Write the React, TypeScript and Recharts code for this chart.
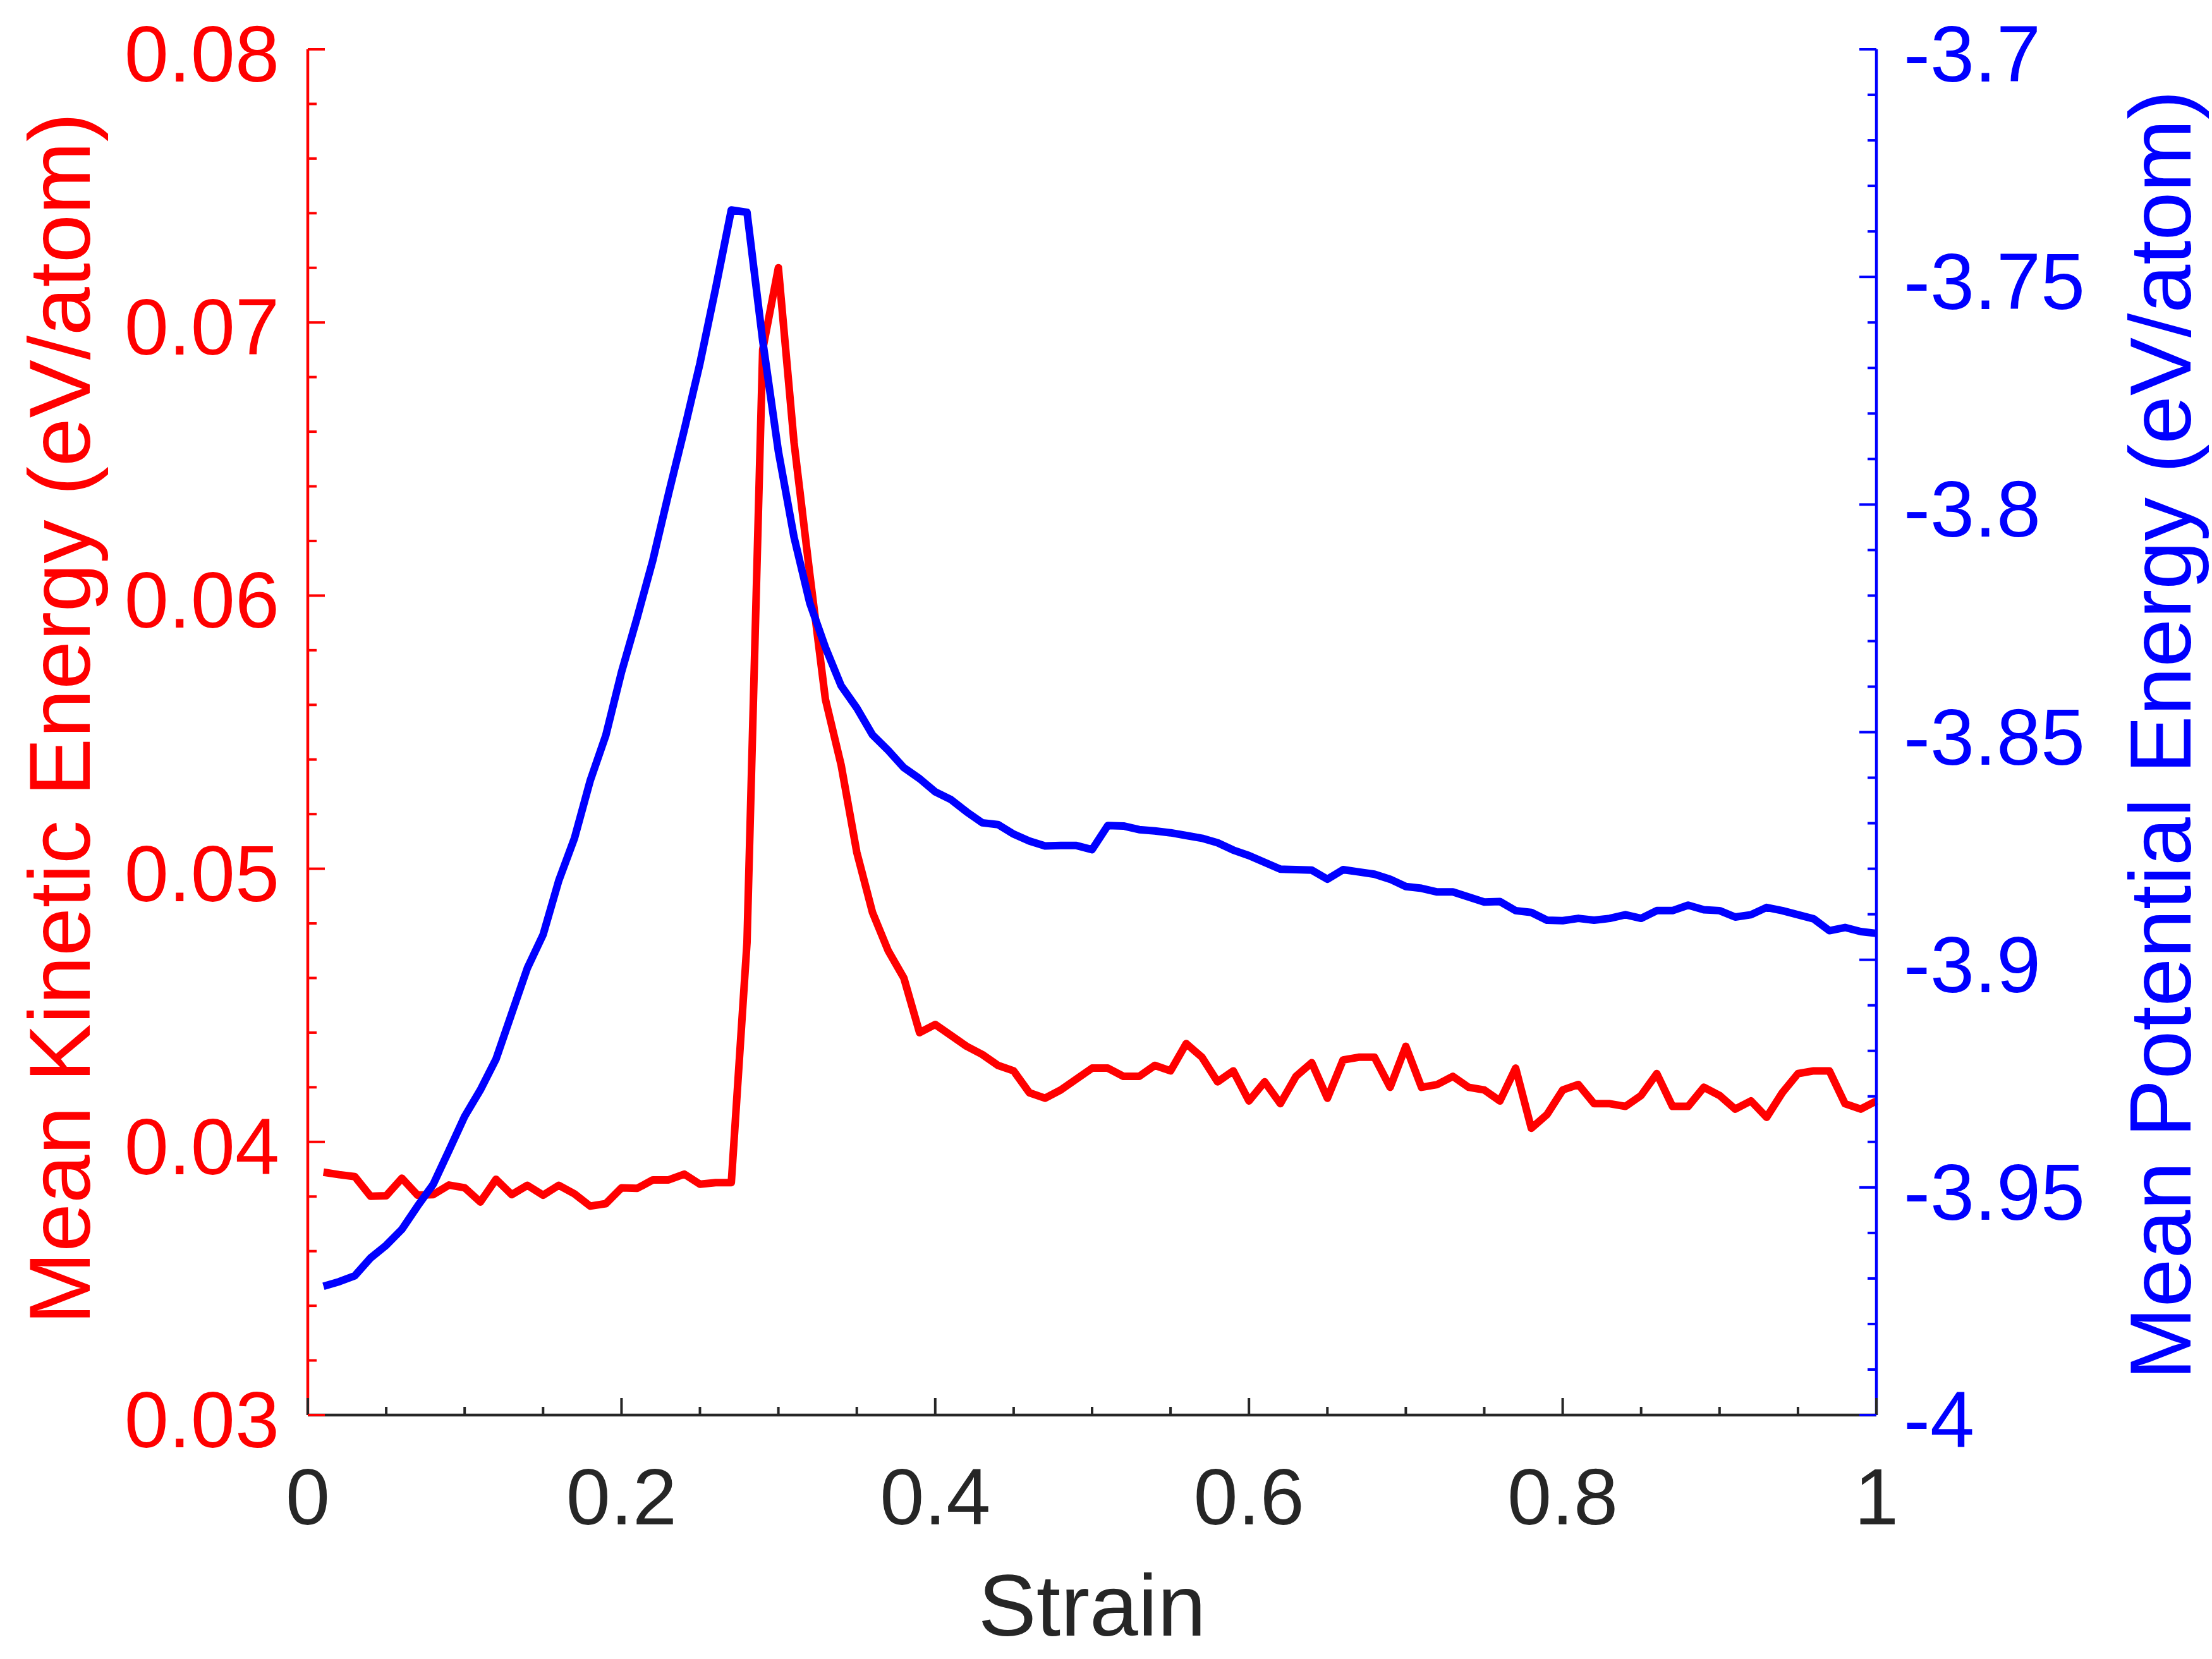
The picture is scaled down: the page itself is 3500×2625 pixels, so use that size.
import { LineChart, Line, XAxis, YAxis } from "recharts";

// strain steps (x)
const strain = [
  0.01, 0.02, 0.03, 0.04, 0.05, 0.06, 0.07, 0.08, 0.09, 0.1,
  0.11, 0.12, 0.13, 0.14, 0.15, 0.16, 0.17, 0.18, 0.19, 0.2,
  0.21, 0.22, 0.23, 0.24, 0.25, 0.26, 0.27, 0.28, 0.29, 0.3,
  0.31, 0.32, 0.33, 0.34, 0.35, 0.36, 0.37, 0.38, 0.39, 0.4,
  0.41, 0.42, 0.43, 0.44, 0.45, 0.46, 0.47, 0.48, 0.49, 0.5,
  0.51, 0.52, 0.53, 0.54, 0.55, 0.56, 0.57, 0.58, 0.59, 0.6,
  0.61, 0.62, 0.63, 0.64, 0.65, 0.66, 0.67, 0.68, 0.69, 0.7,
  0.71, 0.72, 0.73, 0.74, 0.75, 0.76, 0.77, 0.78, 0.79, 0.8,
  0.81, 0.82, 0.83, 0.84, 0.85, 0.86, 0.87, 0.88, 0.89, 0.9,
  0.91, 0.92, 0.93, 0.94, 0.95, 0.96, 0.97, 0.98, 0.99, 1.0,
];

// mean kinetic energy, eV/atom (left axis)
const kineticEnergy = [
  0.03889, 0.0388, 0.03873, 0.03801, 0.03803, 0.03867, 0.03805, 0.03807, 0.03842, 0.03832,
  0.0378, 0.03863, 0.03807, 0.03841, 0.03805, 0.03841, 0.0381, 0.03765, 0.03774, 0.03832,
  0.0383, 0.03861, 0.03861, 0.03882, 0.03845, 0.03851, 0.03851, 0.0473, 0.069, 0.072,
  0.0656, 0.0608, 0.0562, 0.0538, 0.0506, 0.0484, 0.047, 0.046, 0.044, 0.0443,
  0.0439, 0.0435, 0.0432, 0.0428, 0.0426, 0.0418, 0.0416, 0.0419, 0.0423, 0.0427,
  0.0427, 0.0424, 0.0424, 0.0428, 0.0426, 0.0436, 0.0431, 0.0422, 0.0426, 0.0415,
  0.0422, 0.0414, 0.0424, 0.0429, 0.0416, 0.043, 0.0431, 0.0431, 0.042, 0.0435,
  0.042, 0.0421, 0.0424, 0.042, 0.0419, 0.0415, 0.0427, 0.0405, 0.041, 0.0419,
  0.0421, 0.0414, 0.0414, 0.0413, 0.0417, 0.0425, 0.0413, 0.0413, 0.042, 0.0417,
  0.0412, 0.0415, 0.0409, 0.0418, 0.0425, 0.0426, 0.0426, 0.0414, 0.0412, 0.0415,
];

// mean potential energy, eV/atom (right axis)
const potentialEnergy = [
  -3.9717, -3.9707, -3.9694, -3.9655, -3.9627, -3.9592, -3.9541, -3.9493, -3.9419, -3.9344,
  -3.9286, -3.9218, -3.9118, -3.9018, -3.8945, -3.8826, -3.8733, -3.8607, -3.8507, -3.8368,
  -3.8248, -3.8122, -3.7976, -3.7836, -3.769, -3.7525, -3.7353, -3.7358, -3.764, -3.7883,
  -3.8072, -3.8216, -3.8314, -3.8398, -3.8447, -3.8506, -3.854, -3.8578, -3.8602, -3.8631,
  -3.8648, -3.8675, -3.8699, -3.8703, -3.8724, -3.8739, -3.875, -3.8749, -3.8749, -3.8758,
  -3.8705, -3.8706, -3.8714, -3.8717, -3.8721, -3.8727, -3.8733, -3.8743, -3.8759, -3.8771,
  -3.8786, -3.8801, -3.8802, -3.8803, -3.8823, -3.8802, -3.8807, -3.8812, -3.8823, -3.8839,
  -3.8843, -3.8851, -3.8851, -3.8862, -3.8873, -3.8872, -3.8892, -3.8896, -3.8913, -3.8914,
  -3.8909, -3.8913, -3.8909, -3.8901, -3.8909, -3.8892, -3.8892, -3.888, -3.889, -3.8892,
  -3.8906, -3.8901, -3.8885, -3.8892, -3.8901, -3.891, -3.8936, -3.8929, -3.8938, -3.8942,
];

const strainTicks = [0, 0.2, 0.4, 0.6, 0.8, 1];
const strainTickLabels = ["0", "0.2", "0.4", "0.6", "0.8", "1"];
const keTicks = [0.03, 0.04, 0.05, 0.06, 0.07, 0.08];
const keTickLabels = ["0.03", "0.04", "0.05", "0.06", "0.07", "0.08"];
const peTicks = [-4, -3.95, -3.9, -3.85, -3.8, -3.75, -3.7];
const peTickLabels = ["-4", "-3.95", "-3.9", "-3.85", "-3.8", "-3.75", "-3.7"];

const RED = "#ff0000";
const BLUE = "#0000ff";
const GRAY = "#262626";
const FONT = "'Liberation Sans', Arial, Helvetica, sans-serif";

const W = 3500;
const H = 2625;
const PLOT_TOP = 78;
const LEFT_W = 487;
const RIGHT_W = 531;
const BOTTOM_H = 386;

// split each major interval into `parts` minor steps (MATLAB style minor ticks)
function withMinor(major: number[], parts: number) {
  const out: number[] = [];
  for (let i = 0; i < major.length - 1; i++) {
    const step = (major[i + 1] - major[i]) / parts;
    for (let k = 0; k < parts; k++) out.push(+(major[i] + k * step).toFixed(6));
  }
  out.push(major[major.length - 1]);
  return out;
}

function labelFor(v: number, majors: number[], labels: string[]) {
  const i = majors.findIndex(m => Math.abs(m - v) < 1e-6);
  return i >= 0 ? labels[i] : null;
}

// ticks point inwards, labels only on major ticks
const LeftTick = ({ x, y, payload }: any) => {
  const label = labelFor(payload.value, keTicks, keTickLabels);
  return (
    <g>
      <line x1={x} y1={y} x2={x + (label ? 27 : 14)} y2={y} stroke={RED} strokeWidth={4} />
      {label && (
        <text x={x - 45} y={y + 51} textAnchor="end" fill={RED} fontSize={126} fontFamily={FONT}>
          {label}
        </text>
      )}
    </g>
  );
};

const RightTick = ({ x, y, payload }: any) => {
  const label = labelFor(payload.value, peTicks, peTickLabels);
  return (
    <g>
      <line x1={x} y1={y} x2={x - (label ? 27 : 14)} y2={y} stroke={BLUE} strokeWidth={4} />
      {label && (
        <text x={x + 43} y={y + 51} textAnchor="start" fill={BLUE} fontSize={126} fontFamily={FONT}>
          {label}
        </text>
      )}
    </g>
  );
};

const BottomTick = ({ x, y, payload }: any) => {
  const label = labelFor(payload.value, strainTicks, strainTickLabels);
  return (
    <g>
      <line x1={x} y1={y} x2={x} y2={y - (label ? 27 : 13)} stroke={GRAY} strokeWidth={4} />
      {label && (
        <text x={x} y={y + 173} textAnchor="middle" fill={GRAY} fontSize={126} fontFamily={FONT}>
          {label}
        </text>
      )}
    </g>
  );
};

export default function App() {
  const data = strain.map((s, i) => ({
    strain: s,
    ke: kineticEnergy[i],
    pe: potentialEnergy[i],
  }));

  return (
    <div style={{ position: "absolute", left: 0, top: 0, width: W, height: H, background: "#fff" }}>
      <LineChart width={W} height={H} data={data} margin={{ top: PLOT_TOP, right: 0, bottom: 0, left: 0 }}>
        <XAxis
          dataKey="strain"
          type="number"
          domain={[0, 1]}
          ticks={withMinor(strainTicks, 4)}
          interval={0}
          height={BOTTOM_H}
          tickSize={0}
          tickMargin={0}
          tickLine={false}
          axisLine={{ stroke: GRAY, strokeWidth: 4.5 }}
          tick={<BottomTick />}
        />
        <YAxis
          yAxisId="left"
          orientation="left"
          type="number"
          domain={[0.03, 0.08]}
          ticks={withMinor(keTicks, 5)}
          interval={0}
          width={LEFT_W}
          tickSize={0}
          tickMargin={0}
          tickLine={false}
          axisLine={{ stroke: RED, strokeWidth: 4.5 }}
          tick={<LeftTick />}
        />
        <YAxis
          yAxisId="right"
          orientation="right"
          type="number"
          domain={[-4, -3.7]}
          ticks={withMinor(peTicks, 5)}
          interval={0}
          width={RIGHT_W}
          tickSize={0}
          tickMargin={0}
          tickLine={false}
          axisLine={{ stroke: BLUE, strokeWidth: 4.5 }}
          tick={<RightTick />}
        />
        <Line
          yAxisId="left"
          type="linear"
          dataKey="ke"
          stroke={RED}
          strokeWidth={12}
          strokeLinejoin="round"
          dot={false}
          activeDot={false}
          isAnimationActive={false}
        />
        <Line
          yAxisId="right"
          type="linear"
          dataKey="pe"
          stroke={BLUE}
          strokeWidth={12}
          strokeLinejoin="round"
          dot={false}
          activeDot={false}
          isAnimationActive={false}
        />
      </LineChart>
      {/* axis titles */}
      <svg width={W} height={H} style={{ position: "absolute", left: 0, top: 0, pointerEvents: "none" }}>
        <text
          transform="translate(142, 1137) rotate(-90)"
          textAnchor="middle"
          fill={RED}
          fontSize={138}
          fontFamily={FONT}
        >
          Mean Kinetic Energy (eV/atom)
        </text>
        <text
          transform="translate(3466, 1163) rotate(-90)"
          textAnchor="middle"
          fill={BLUE}
          fontSize={138}
          fontFamily={FONT}
        >
          Mean Potential Energy (eV/atom)
        </text>
        <text x={1728} y={2588} textAnchor="middle" fill={GRAY} fontSize={138} fontFamily={FONT}>
          Strain
        </text>
      </svg>
    </div>
  );
}
